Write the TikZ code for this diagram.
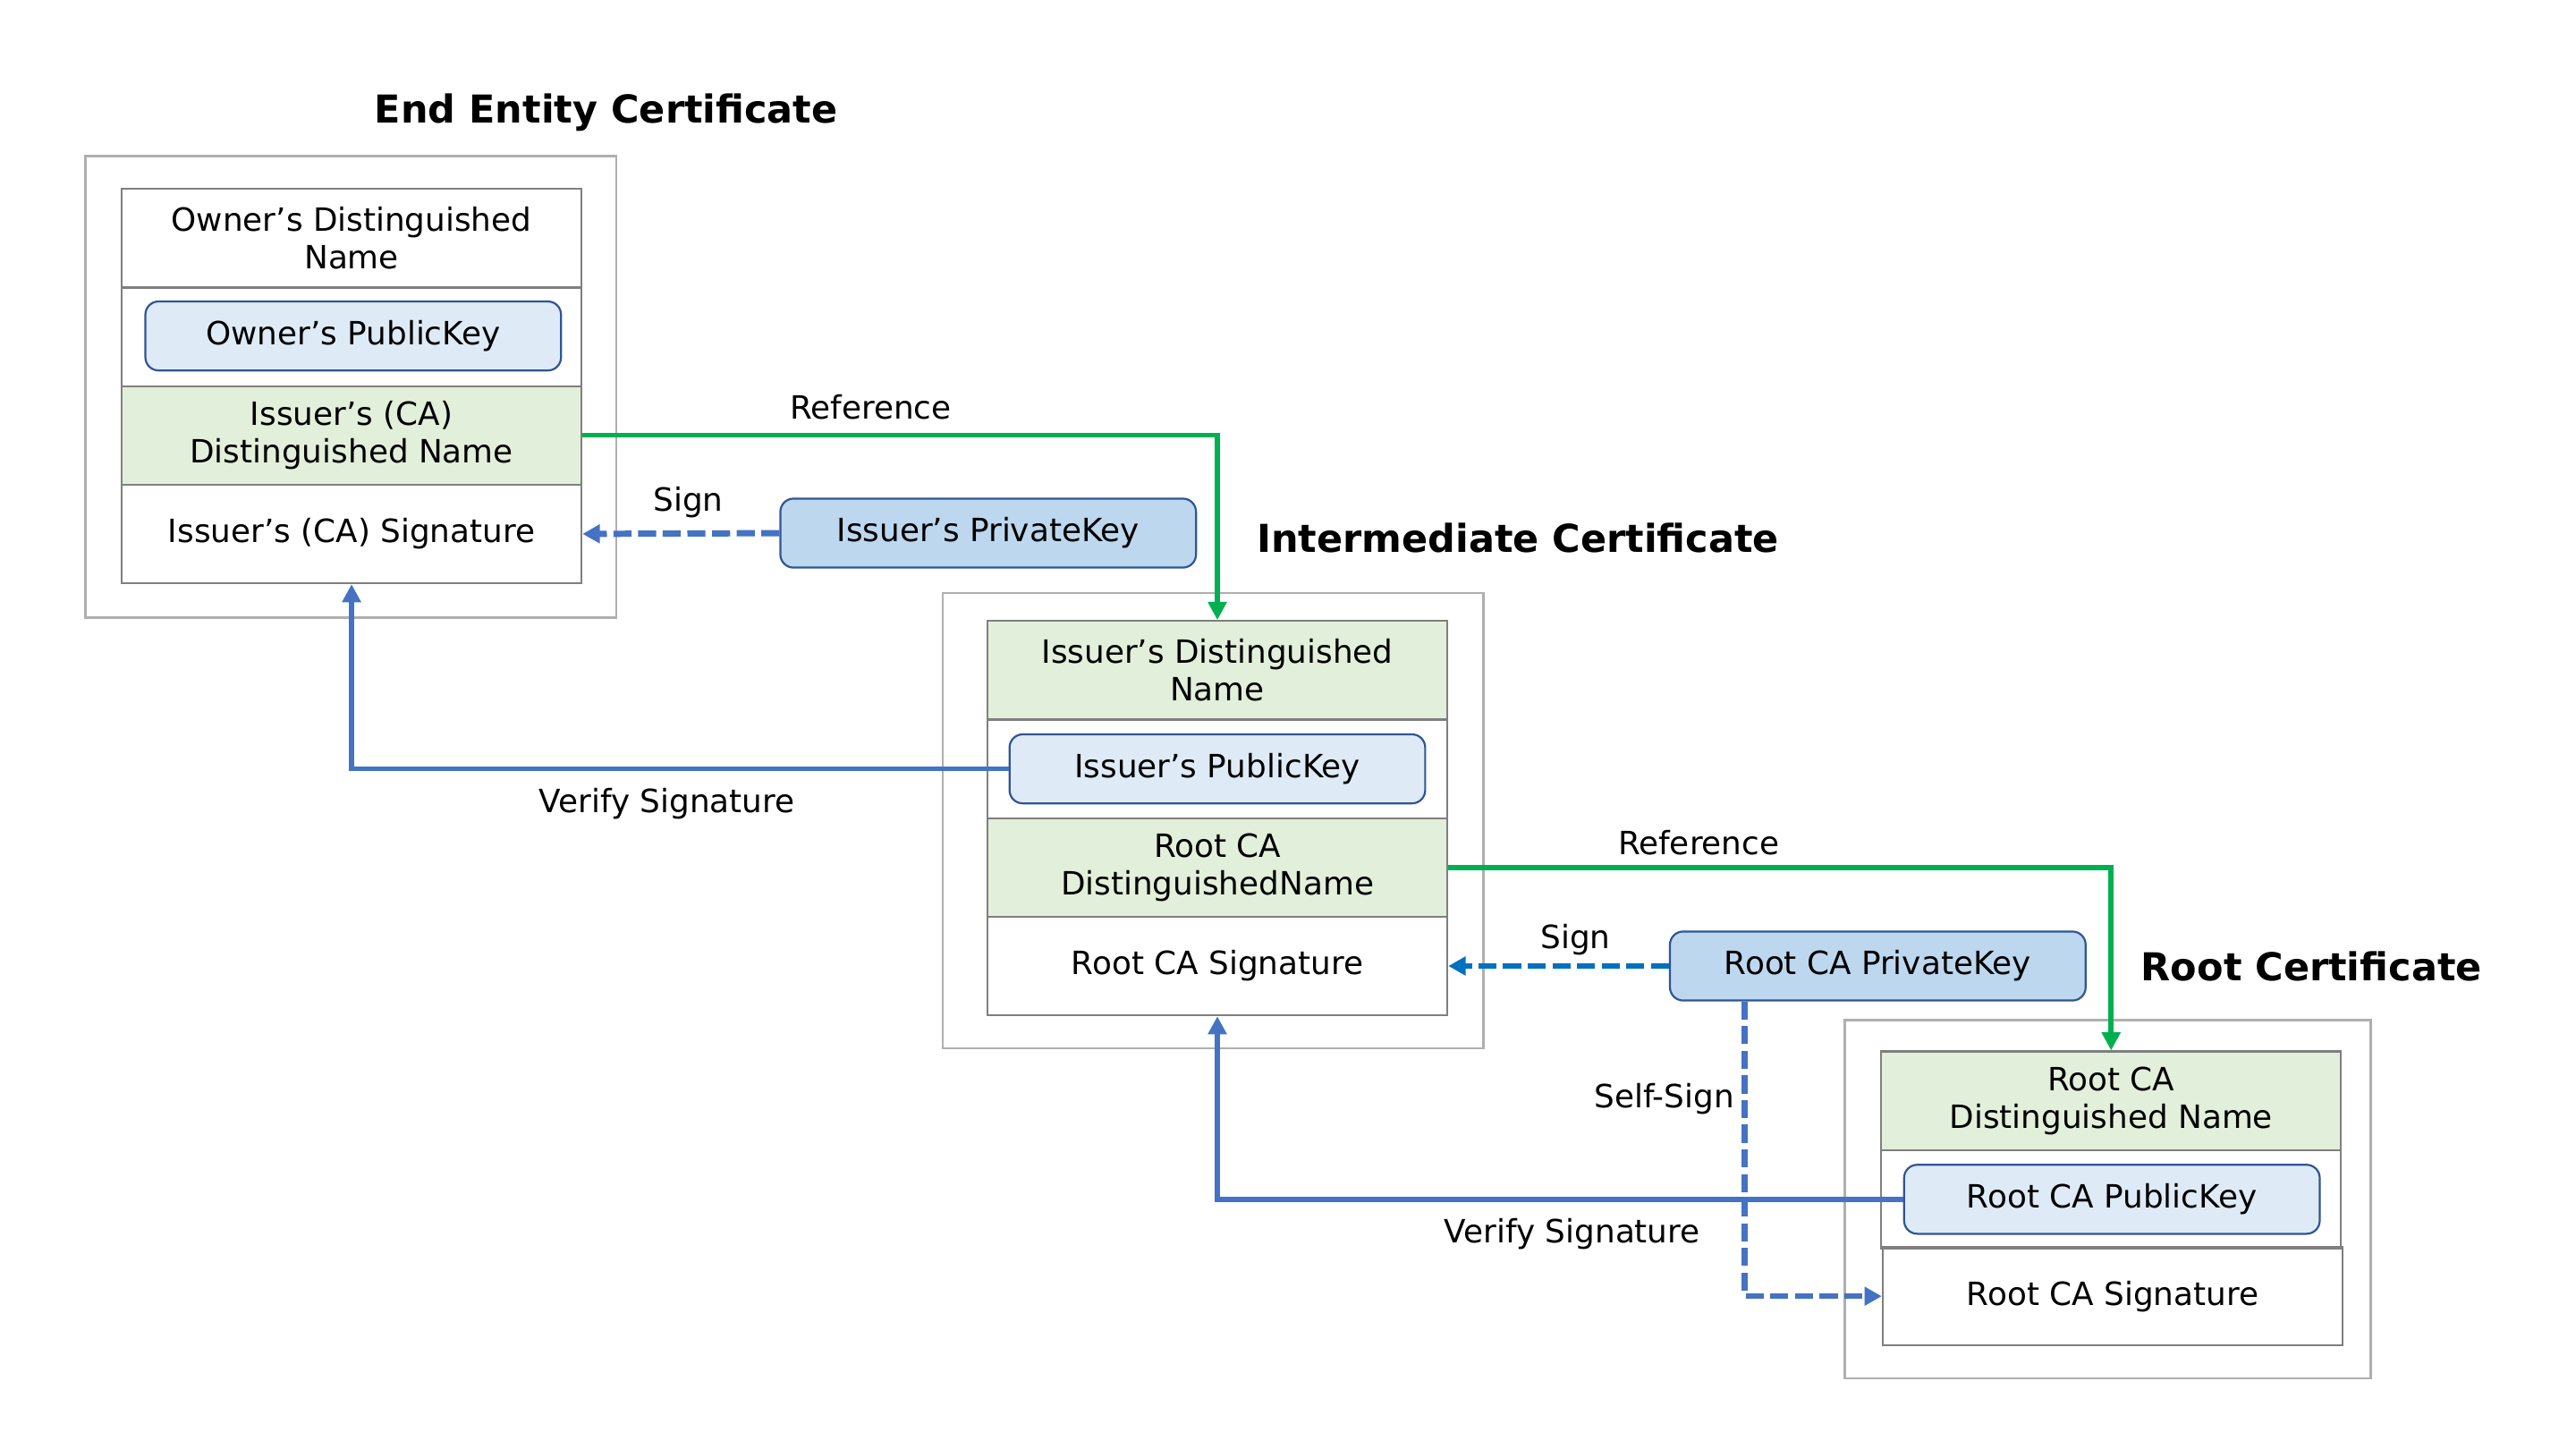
\documentclass[tikz,border=0pt]{standalone}
\usepackage{fontspec}
\setmainfont{DejaVu Sans}
\usetikzlibrary{arrows.meta,fit}

\definecolor{dngreen}{HTML}{E2EFDA}
\definecolor{publight}{HTML}{DEEBF7}
\definecolor{privblue}{HTML}{BDD7EE}
\definecolor{keyblue}{HTML}{2F5597}
\definecolor{fieldgray}{HTML}{7F7F7F}
\definecolor{boxgray}{HTML}{AFAFAF}
\definecolor{refgreen}{HTML}{00B050}
\definecolor{verblue}{HTML}{4472C4}
\definecolor{signblue}{HTML}{0070C0}

\newcommand{\fieldfont}{\fontsize{19.5pt}{23pt}\selectfont}
\newcommand{\titlefont}{\fontsize{23.4pt}{28pt}\selectfont\bfseries}

\tikzset{
    field/.style={draw=fieldgray, line width=1.2pt, minimum width=280pt, minimum height=60pt, inner sep=0pt, align=center, font=\fieldfont},
    dnfield/.style={field, fill=dngreen},
    pubkey/.style={draw=keyblue, line width=1.2pt, rounded corners=8pt, fill=publight, minimum width=253pt, minimum height=42pt, inner sep=0pt, font=\fieldfont},
    privkey/.style={pubkey, fill=privblue},
    certbox/.style={draw=boxgray, line width=1.3pt},
    certtitle/.style={font=\titlefont, anchor=base},
    lbl/.style={font=\fieldfont},
    refline/.style={draw=refgreen, line width=3pt, -{Triangle[length=11pt,width=11pt]}},
    verifyline/.style={draw=verblue, line width=3pt, -{Triangle[length=11pt,width=11pt]}},
    signline/.style={draw=verblue, line width=3.8pt, dash pattern=on 11pt off 4pt, -{Triangle[length=10.5pt,width=11pt]}}
}

\begin{document}
\begin{tikzpicture}[x=1pt, y=-1pt]
    \useasboundingbox (0,0) rectangle (1568,882);

    % End entity certificate
    \draw[certbox] (52,95) rectangle (375,376);
    \node[field] (eeOwner) at (214,145) {Owner’s Distinguished\\Name};
    \node[field] (eeKeyRow) at (214,205) {};
    \node[pubkey] (eePub) at (215,204.5) {Owner’s PublicKey};
    \node[dnfield] (eeIssuer) at (214,265) {Issuer’s (CA)\\Distinguished Name};
    \node[field] (eeSig) at (214,325) {Issuer’s (CA) Signature};
    \node[certtitle] (eeTitle) at (369,75) {End Entity Certificate};

    \node[privkey] (issPriv) at (601.5,324.5) {Issuer’s PrivateKey};

    % Intermediate certificate
    \draw[certbox] (574,361) rectangle (903,638);
    \node[dnfield] (intDN) at (741,408) {Issuer’s Distinguished\\Name};
    \node[field] (intKeyRow) at (741,468) {};
    \node[pubkey] (intPub) at (741,468) {Issuer’s PublicKey};
    \node[dnfield] (intRoot) at (741,528) {Root CA\\DistinguishedName};
    \node[field] (intSig) at (741,588) {Root CA Signature};
    \node[certtitle] (intTitle) at (924,336) {Intermediate Certificate};

    \node[privkey] (rootPriv) at (1143,588) {Root CA PrivateKey};

    % Root certificate
    \draw[certbox] (1123,621) rectangle (1443,839);
    \node[dnfield] (rootDN) at (1285,670) {Root CA\\Distinguished Name};
    \node[field] (rootKeyRow) at (1285,730) {};
    \node[pubkey] (rootPub) at (1285.5,730) {Root CA PublicKey};
    \node[field] (rootSig) at (1286,789) {Root CA Signature};
    \node[certtitle] (rootTitle) at (1407,597) {Root Certificate};

    % Connectors
    \draw[refline] (eeIssuer.east) -| (intDN.north);
    \draw[signline] (issPriv.west) -- (eeSig.east);
    \draw[verifyline] (intPub.west) -| (eeSig.south);
    \draw[refline] (intRoot.east) -| (rootDN.north);
    \draw[signline, draw=signblue] (rootPriv.west) -- (intSig.east);
    \draw[signline, line width=3.5pt] ([xshift=-81pt]rootPriv.south) |- (rootSig.west);
    \draw[verifyline] (rootPub.west) -| (intSig.south);

    % Labels
    \node[lbl] (refA) at (530,248) {Reference};
    \node[lbl] (signA) at (419,306) {Sign};
    \node[lbl] (verA) at (406,489) {Verify Signature};
    \node[lbl] (refB) at (1034,513) {Reference};
    \node[lbl] (signB) at (959,572) {Sign};
    \node[lbl] (selfSign) at (1013,669) {Self-Sign};
    \node[lbl] (verB) at (957,751) {Verify Signature};
\end{tikzpicture}
\end{document}
